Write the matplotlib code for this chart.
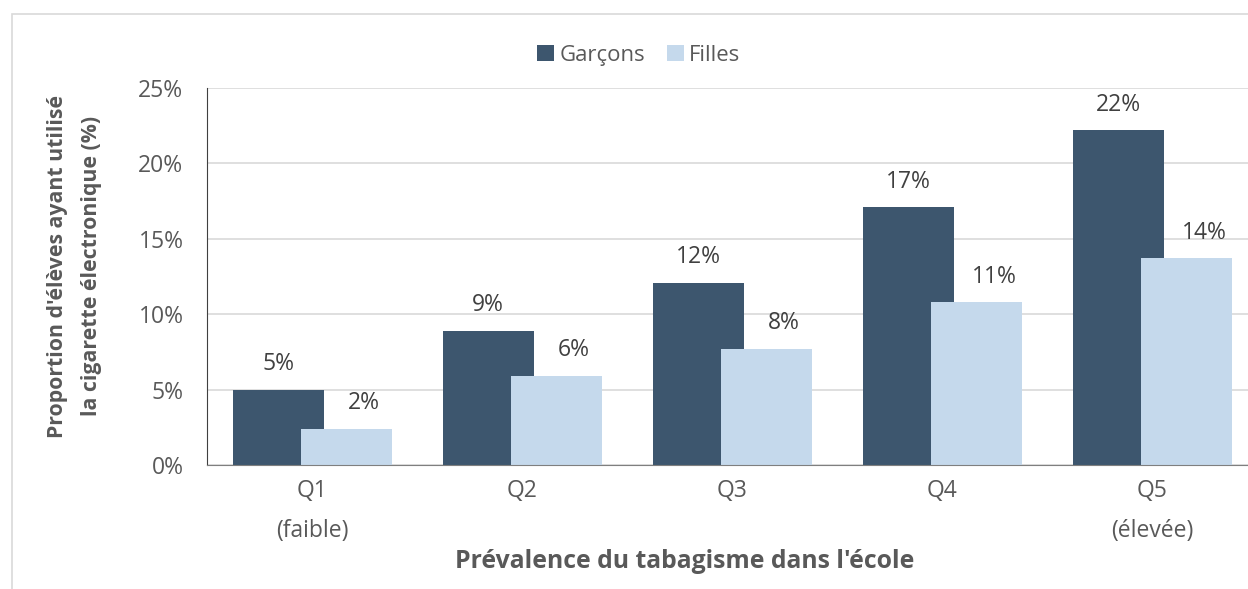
import matplotlib.pyplot as plt
import numpy as np
from matplotlib.patches import Rectangle

# data
categories = ['Q1\n(faible)', 'Q2', 'Q3', 'Q4', 'Q5\n(élevée)']
garcons = [5.0, 8.9, 12.1, 17.1, 22.2]
filles = [2.4, 5.9, 7.7, 10.8, 13.7]
garcons_labels = ['5%', '9%', '12%', '17%', '22%']
filles_labels = ['2%', '6%', '8%', '11%', '14%']
yticks = [0, 5, 10, 15, 20, 25]

plt.rcParams['font.family'] = ['Open Sans', 'DejaVu Sans']

dark = '#3d566e'
light = '#c5d9ec'
grey = '#595959'
fs = 16.5

fig = plt.figure(figsize=(12.48, 5.89), dpi=100)
# outer chart border (cropped at right / bottom)
fig.patches.append(Rectangle((12 / 1248, -0.1), 1.2, 1 - 14 / 589 + 0.1,
                             transform=fig.transFigure, fill=False,
                             edgecolor='#d9d9d9', linewidth=1.2))

ax = fig.add_axes([0.1659, 0.2105, 0.8417, 0.6401])
x = np.arange(len(categories))
w = 0.433
off = 0.162
ax.bar(x - off, garcons, w, color=dark, label='Garçons', zorder=3)
ax.bar(x + off, filles, w, color=light, label='Filles', zorder=4)

# value labels (Filles labels sit a bit right of the bar centre)
for xi, v, t in zip(x, garcons, garcons_labels):
    ax.text(xi - off, v + 0.9, t, ha='center', va='bottom', fontsize=fs, color='#404040')
for xi, v, t in zip(x, filles, filles_labels):
    ax.text(xi + off + 0.085, v + 0.9, t, ha='center', va='bottom', fontsize=fs, color='#404040')

ax.set_xlim(-0.5, 4.5)
ax.set_ylim(0, 25)
ax.set_yticks(yticks)
ax.set_yticklabels([f'{t}%' for t in yticks], fontsize=fs, color=grey)
ax.set_xticks(x)
ax.set_xticklabels(categories, fontsize=fs, color=grey)
for t in ax.get_xticklabels():
    t.set_linespacing(1.9)
ax.tick_params(axis='x', length=0, pad=10)
ax.tick_params(axis='y', length=0, pad=17)
ax.grid(axis='y', color='#d9d9d9', linewidth=1.2, zorder=0)
for s in ['top', 'right']:
    ax.spines[s].set_visible(False)
ax.spines['left'].set_color('#404040')
ax.spines['bottom'].set_color('#7f7f7f')
ax.spines['bottom'].set_zorder(5)

fig.text(0.5485, 1 - 562 / 589, "Prévalence du tabagisme dans l'école", fontsize=17.8,
         fontweight='bold', color=grey, ha='center', va='center')
fig.text(0.0597, 0.548, "Proportion d'élèves ayant utilisé\nla cigarette électronique (%)",
         rotation=90, ha='center', va='center', fontsize=15.3, fontweight='bold',
         color=grey, linespacing=1.8)

fig.legend(loc='center', bbox_to_anchor=(0.512, 0.906), ncol=2, frameon=False,
           fontsize=15.9, handlelength=0.75, handleheight=0.75, handletextpad=0.25,
           columnspacing=1.0, labelcolor=grey)

fig.savefig('out.png', dpi=100)
